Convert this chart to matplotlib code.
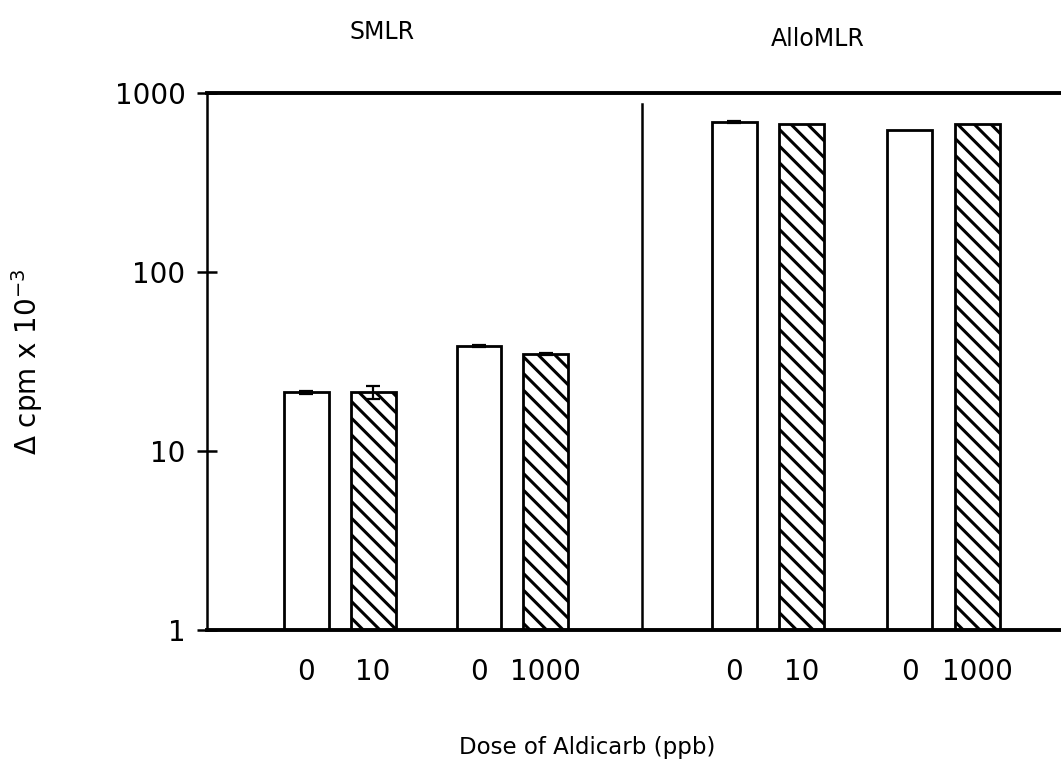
import numpy as np
import matplotlib
matplotlib.use("Agg")
import matplotlib.pyplot as plt

plt.rcParams['font.family'] = ['DejaVu Sans']
plt.rcParams['hatch.linewidth'] = 2.2

# ---------------------------------------------------------------
# Data: proliferation response (delta cpm x 10^-3), log scale
# ---------------------------------------------------------------
dose_labels = ["0", "10", "0", "1000", "0", "10", "0", "1000"]
response = [21.3, 21.3, 38.6, 34.8, 690, 670, 625, 670]
response_err = [0.4, 1.8, 0.6, 0.3, 8, 0, 0, 0]
treated = [False, True, False, True, False, True, False, True]
group_names = ["SMLR", "AlloMLR"]

# bar positions along x (two pairs per assay)
positions = [1.48, 2.48, 4.06, 5.06, 7.87, 8.88, 10.49, 11.5]
divider_x = 6.49
group_title_x = [2.61, 9.12]

fig = plt.figure(figsize=(10.61, 7.69), dpi=100)
ax = fig.add_axes([207 / 1061, 1 - 630 / 769, 854 / 1061, 537 / 769])

for x, val, err, hatched in zip(positions, response, response_err, treated):
    ax.bar(x, val, width=0.67, bottom=0.0, color="white", edgecolor="black",
           linewidth=2.0, hatch="\\\\" if hatched else None, zorder=2)
    if err > 0:
        ax.errorbar(x, val, yerr=err, fmt="none", ecolor="black",
                    elinewidth=1.6, capsize=5, capthick=1.6, zorder=3)

ax.set_yscale("log")
ax.set_ylim(1, 1000)
ax.set_xlim(0, 12.75)

# vertical separator between the two assays
ax.axvline(divider_x, ymin=0, ymax=0.98, color="black", linewidth=1.8)

ax.set_yticks([1, 10, 100, 1000])
ax.set_yticklabels(["1", "10", "100", "1000"])
ax.yaxis.set_minor_locator(matplotlib.ticker.NullLocator())
ax.tick_params(axis="y", direction="inout", length=15, width=1.8,
               labelsize=20, pad=8)

ax.set_xticks(positions)
ax.set_xticklabels(dose_labels)
ax.tick_params(axis="x", length=0, labelsize=20, pad=20)

ax.spines["right"].set_visible(False)
ax.spines["top"].set_linewidth(2.8)
ax.spines["bottom"].set_linewidth(2.8)
ax.spines["left"].set_linewidth(1.8)

ax.set_ylabel("$\\Delta$ cpm x 10$^{-3}$", fontsize=20)
ax.yaxis.set_label_coords(-0.19, 0.5)
ax.set_xlabel("Dose of Aldicarb (ppb)", fontsize=16.5)
ax.xaxis.set_label_coords(0.445, -0.197)
ax.xaxis.label.set_va("top")

for name, gx, gy in zip(group_names, group_title_x, [1.113, 1.1]):
    ax.text(gx, gy, name, transform=ax.get_xaxis_transform(),
            ha="center", va="center", fontsize=17)

fig.savefig("out.png", dpi=100)
